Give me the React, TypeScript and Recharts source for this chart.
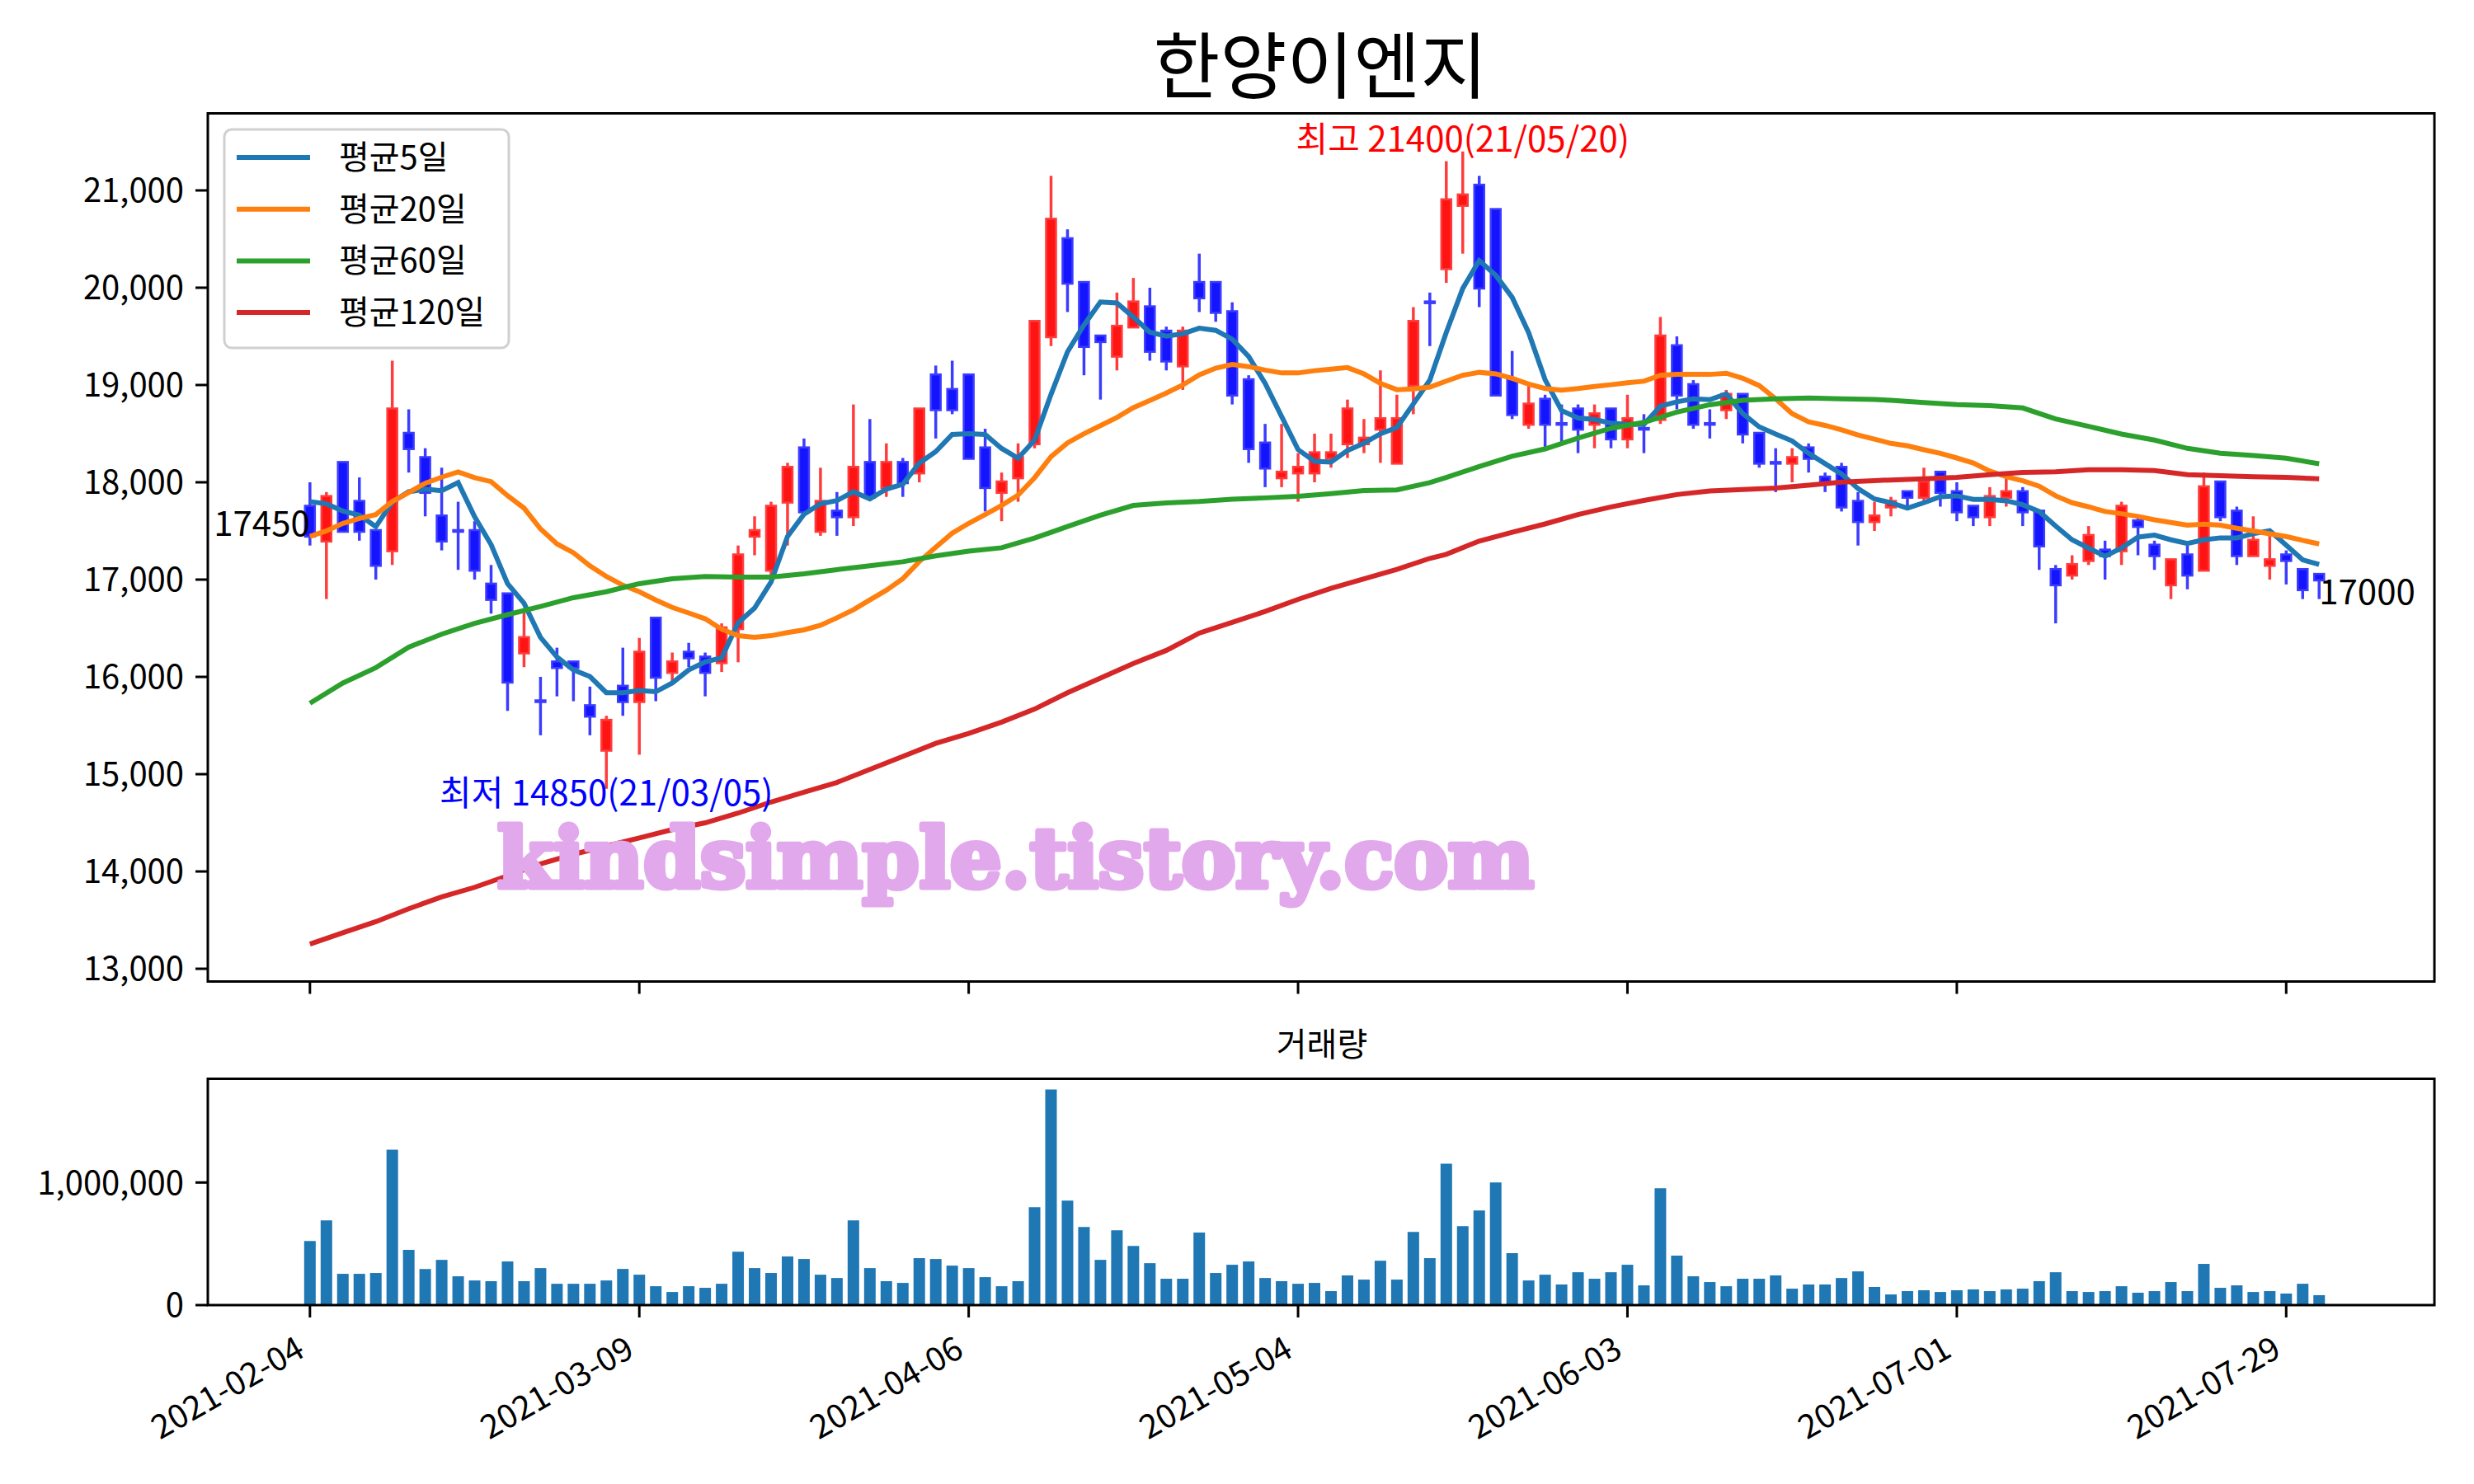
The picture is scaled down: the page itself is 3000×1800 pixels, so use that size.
import React from "react";
import { ComposedChart, Bar, Line, XAxis, YAxis, ReferenceDot } from "recharts";

const FONT = "'Noto Sans CJK KR', 'Noto Sans', sans-serif";

// daily candles, index 0 = 2021-02-04
const opens = [
  17750, 17400, 18200, 17800, 17500, 17300, 18500, 18250, 17650, 17500,
  17500, 16950, 16850, 16250, 15750, 16150, 16150, 15700, 15250, 15900,
  15750, 16600, 16050, 16250, 16200, 16150, 16500, 17450, 17100, 17800,
  18350, 17500, 17700, 17650, 18200, 17950, 18200, 18100, 19100, 18950,
  19100, 18350, 17900, 18050, 18400, 19500, 20500, 20050, 19500, 19300,
  19600, 19800, 19550, 19200, 20050, 20050, 19750, 19050, 18400, 18050,
  18100, 18100, 18250, 18400, 18400, 18550, 18200, 19000, 19850, 20200,
  20850, 21050, 20800, 19050, 18600, 18850, 18600, 18750, 18600, 18750,
  18450, 18550, 18650, 19400, 19000, 18600, 18750, 18900, 18500, 18200,
  18200, 18350, 18050, 18150, 17800, 17600, 17750, 17900, 17850, 18100,
  17900, 17750, 17650, 17850, 17900, 17700, 17100, 17050, 17200, 17300,
  17300, 17600, 17350, 16950, 17250, 17100, 18000, 17700, 17250, 17150,
  17250, 17100, 17050,
];
const highs = [
  18000, 17900, 18200, 18050, 17500, 19250, 18750, 18350, 18150, 17800,
  17600, 17150, 16850, 16700, 16000, 16300, 16150, 15900, 15600, 16300,
  16400, 16600, 16250, 16350, 16250, 16550, 17350, 17650, 17800, 18200,
  18450, 18150, 17900, 18800, 18650, 18400, 18250, 18750, 19200, 19250,
  19100, 18550, 18100, 18400, 19650, 21150, 20600, 20050, 19500, 19950,
  20100, 20000, 19600, 19600, 20350, 20050, 19850, 19100, 18600, 18600,
  18300, 18500, 18500, 18850, 18650, 19150, 18900, 19800, 19950, 21300,
  21400, 21150, 20800, 19350, 19000, 18900, 18800, 18800, 18800, 18750,
  18900, 18700, 19700, 19500, 19050, 18750, 18950, 18900, 18500, 18350,
  18350, 18400, 18100, 18200, 17900, 17800, 17850, 17900, 18150, 18100,
  18000, 17750, 17950, 18050, 17950, 17700, 17150, 17250, 17550, 17400,
  17800, 17650, 17400, 17200, 17350, 18100, 18000, 17750, 17650, 17500,
  17300, 17100, 17050,
];
const lows = [
  17350, 16800, 17500, 17400, 17000, 17150, 18100, 17650, 17300, 17100,
  17000, 16650, 15650, 16100, 15400, 15800, 15750, 15400, 14850, 15600,
  15200, 15750, 15950, 16100, 15800, 16050, 16150, 17250, 17050, 17350,
  17700, 17450, 17450, 17550, 17850, 17850, 17850, 18000, 18450, 18700,
  18250, 17700, 17600, 17800, 18350, 19400, 19750, 19100, 18850, 19150,
  19600, 19250, 19150, 18950, 19750, 19650, 18800, 18200, 17950, 17950,
  17800, 18000, 18150, 18250, 18300, 18200, 18200, 18700, 19400, 20050,
  20350, 19800, 18900, 18650, 18550, 18350, 18400, 18300, 18350, 18350,
  18350, 18300, 18600, 18750, 18550, 18450, 18650, 18400, 18150, 17900,
  18000, 18100, 17900, 17700, 17350, 17500, 17650, 17750, 17800, 17750,
  17600, 17550, 17550, 17750, 17550, 17100, 16550, 17000, 17150, 17000,
  17150, 17250, 17100, 16800, 16900, 17100, 17600, 17150, 17250, 17000,
  16950, 16800, 16800,
];
const closes = [
  17450, 17850, 17500, 17500, 17150, 18750, 18350, 17900, 17400, 17500,
  17100, 16800, 15950, 16400, 15750, 16100, 16100, 15600, 15550, 15750,
  16250, 16000, 16150, 16200, 16050, 16500, 17250, 17500, 17750, 18150,
  17700, 17800, 17650, 18150, 17850, 18200, 18000, 18750, 18750, 18750,
  18250, 17950, 18000, 18250, 19650, 20700, 20050, 19400, 19450, 19600,
  19850, 19350, 19250, 19550, 19900, 19750, 18900, 18350, 18150, 18100,
  18150, 18300, 18300, 18750, 18450, 18650, 18650, 19650, 19850, 20900,
  20950, 20000, 18900, 18700, 18800, 18600, 18600, 18550, 18700, 18450,
  18650, 18550, 19500, 18900, 18600, 18600, 18900, 18500, 18200, 18200,
  18250, 18250, 18000, 17750, 17600, 17650, 17800, 17850, 18000, 17900,
  17700, 17650, 17850, 17900, 17700, 17350, 16950, 17150, 17450, 17250,
  17750, 17550, 17250, 17200, 17050, 17950, 17650, 17250, 17400, 17200,
  17200, 16900, 17000,
];
const volumes = [
  523000, 691000, 255000, 255000, 262000, 1268000, 450000, 295000, 369000, 235000,
  201000, 195000, 356000, 195000, 302000, 174000, 174000, 174000, 201000, 295000,
  248000, 154000, 107000, 154000, 141000, 174000, 436000, 302000, 262000, 396000,
  376000, 248000, 221000, 691000, 302000, 195000, 181000, 383000, 376000, 322000,
  302000, 228000, 154000, 195000, 799000, 1758000, 852000, 638000, 369000, 611000,
  483000, 342000, 215000, 215000, 591000, 262000, 329000, 356000, 221000, 195000,
  174000, 181000, 114000, 242000, 208000, 362000, 208000, 597000, 383000, 1154000,
  644000, 772000, 1000000, 423000, 201000, 248000, 168000, 268000, 215000, 268000,
  329000, 161000, 953000, 403000, 235000, 188000, 154000, 215000, 215000, 242000,
  134000, 168000, 168000, 221000, 275000, 148000, 87000, 114000, 121000, 107000,
  121000, 128000, 114000, 128000, 134000, 195000, 268000, 114000, 107000, 114000,
  154000, 101000, 114000, 188000, 114000, 336000, 141000, 161000, 107000, 114000,
  94000, 174000, 81000,
];

// moving averages
const ma5 = [
  17802, 17779, 17705, 17662, 17544, 17796, 17903, 17930, 17913, 17997,
  17645, 17360, 16958, 16757, 16406, 16205, 16071, 16004, 15837, 15837,
  15860, 15847, 15937, 16071, 16155, 16195, 16556, 16707, 16975, 17444,
  17672, 17779, 17812, 17903, 17829, 17930, 17980, 18197, 18315, 18492,
  18499, 18492, 18348, 18248, 18432, 18904, 19341, 19617, 19853, 19844,
  19698, 19542, 19503, 19526, 19584, 19562, 19471, 19293, 19017, 18677,
  18336, 18216, 18207, 18327, 18401, 18499, 18563, 18806, 19050, 19540,
  19992, 20279, 20128, 19901, 19538, 19054, 18737, 18661, 18646, 18607,
  18595, 18595, 18782, 18827, 18858, 18849, 18909, 18706, 18570, 18495,
  18425, 18298, 18192, 18086, 17935, 17829, 17790, 17734, 17790, 17852,
  17861, 17824, 17824, 17810, 17770, 17700, 17550, 17409, 17324, 17240,
  17324, 17437, 17457, 17409, 17372, 17409, 17429, 17429, 17471, 17502,
  17353, 17203, 17155,
];
const ma20 = [
  17444, 17501, 17578, 17628, 17668, 17802, 17896, 17990, 18053, 18107,
  18047, 18007, 17863, 17735, 17521, 17367, 17276, 17142, 17032, 16942,
  16875, 16791, 16714, 16657, 16597, 16490, 16423, 16406, 16423, 16456,
  16483, 16530, 16607, 16690, 16791, 16891, 17009, 17186, 17333, 17477,
  17578, 17668, 17762, 17869, 18047, 18264, 18405, 18499, 18583, 18666,
  18767, 18840, 18917, 19000, 19105, 19173, 19212, 19189, 19153, 19124,
  19124, 19147, 19163, 19179, 19114, 19017, 18952, 18959, 18978, 19040,
  19100, 19130, 19115, 19069, 19009, 18964, 18948, 18964, 18985, 19003,
  19024, 19039, 19100, 19109, 19109, 19109, 19121, 19069, 18994, 18858,
  18706, 18622, 18585, 18540, 18486, 18443, 18400, 18375, 18335, 18298,
  18250, 18199, 18115, 18058, 18016, 17960, 17861, 17790, 17748, 17700,
  17677, 17649, 17615, 17587, 17559, 17570, 17559, 17528, 17500, 17471,
  17443, 17403, 17367,
];
const ma60Points: [number, number][] = [
  [0, 15729], [2, 15937], [4, 16094], [6, 16305], [8, 16439], [10, 16550],
  [12, 16640], [14, 16724], [16, 16814], [18, 16875], [20, 16958], [22, 17009],
  [24, 17032], [26, 17025], [28, 17025], [30, 17059], [32, 17102], [34, 17142],
  [36, 17183], [38, 17243], [40, 17293], [42, 17327], [44, 17427], [46, 17545],
  [48, 17662], [50, 17762], [52, 17789], [54, 17802], [56, 17827], [58, 17840],
  [60, 17856], [62, 17883], [64, 17915], [66, 17922], [68, 17996], [69, 18050],
  [71, 18162], [73, 18268], [75, 18343], [77, 18455], [79, 18555], [81, 18616],
  [83, 18721], [85, 18797], [87, 18843], [89, 18858], [91, 18867], [93, 18858],
  [95, 18852], [96, 18843], [98, 18820], [100, 18798], [102, 18787], [104, 18764],
  [106, 18651], [108, 18575], [110, 18496], [112, 18434], [114, 18349], [116, 18298],
  [118, 18276], [120, 18247], [122, 18191],
];
const ma120Points: [number, number][] = [
  [0, 13253], [2, 13370], [4, 13484], [6, 13617], [8, 13738], [10, 13837],
  [12, 13956], [14, 14077], [16, 14176], [18, 14261], [20, 14345], [22, 14430],
  [24, 14500], [26, 14600], [28, 14714], [30, 14815], [32, 14915], [34, 15049],
  [36, 15183], [38, 15317], [40, 15418], [42, 15535], [44, 15669], [46, 15837],
  [48, 15987], [50, 16138], [52, 16272], [54, 16450], [56, 16560], [58, 16673],
  [60, 16797], [62, 16910], [64, 17007], [66, 17105], [68, 17218], [69, 17260],
  [71, 17396], [73, 17487], [75, 17572], [77, 17669], [79, 17747], [81, 17814],
  [83, 17874], [85, 17911], [87, 17926], [89, 17941], [91, 17971], [93, 18002],
  [95, 18017], [96, 18024], [98, 18036], [100, 18050], [102, 18078], [104, 18101],
  [106, 18109], [108, 18129], [110, 18129], [112, 18120], [114, 18078], [116, 18067],
  [118, 18058], [120, 18050], [122, 18036],
];

const tickIdx = [0, 20, 40, 60, 80, 100, 120];
const tickDates = ["2021-02-04", "2021-03-09", "2021-04-06", "2021-05-04", "2021-06-03", "2021-07-01", "2021-07-29"];
const priceTicks = [13000, 14000, 15000, 16000, 17000, 18000, 19000, 20000, 21000];
const volumeTicks = [0, 1000000];

const maSeries = [
  { key: "ma5", name: "평균5일", color: "#1f77b4" },
  { key: "ma20", name: "평균20일", color: "#ff7f0e" },
  { key: "ma60", name: "평균60일", color: "#2ca02c" },
  { key: "ma120", name: "평균120일", color: "#d62728" },
];

const ma60ByIdx = new Map(ma60Points);
const ma120ByIdx = new Map(ma120Points);
const rows = closes.map((close, i) => ({
  i,
  open: opens[i],
  high: highs[i],
  low: lows[i],
  close,
  vol: volumes[i],
  ma5: ma5[i],
  ma20: ma20[i],
  ma60: ma60ByIdx.get(i) ?? null,
  ma120: ma120ByIdx.get(i) ?? null,
}));

const X_DOMAIN: [number, number] = [-6.2, 129.0];
const fmt = (v: number) => v.toLocaleString("en-US");

const Candle = (props: any) => {
  const { x, y, width, height, payload } = props;
  if (!payload || height == null) return null;
  const { open, close, high, low } = payload;
  const up = close > open;
  const fill = up ? "#ff1414" : "#1414ff";
  const edge = up ? "#ff3c3c" : "#3c3cff";
  const top = Math.min(y, y + height);
  const h = Math.abs(height);
  const k = h / (high - low);
  const py = (v: number) => top + (high - v) * k;
  const cx = x + width / 2;
  const bt = py(Math.max(open, close));
  const bb = py(Math.min(open, close));
  return (
    <g>
      <line x1={cx} x2={cx} y1={top} y2={top + h} stroke={edge} strokeWidth={3.5} />
      <rect x={x + 1} y={bt - 1} width={width - 2} height={Math.max(bb - bt, 0) + 2} fill={fill} stroke={edge} strokeWidth={2.5} />
    </g>
  );
};

const DateTick = (props: any) => {
  const { x, y, payload } = props;
  const label = tickDates[tickIdx.indexOf(payload.value)] ?? "";
  const ax = x - 4;
  const ay = y + 31;
  return (
    <text x={ax} y={ay} textAnchor="end" fontSize={40} fontFamily={FONT} fill="#000" transform={`rotate(-30, ${ax}, ${ay})`}>
      {label}
    </text>
  );
};

const noteText = (text: string, color: string, anchor: "start" | "middle" | "end", dy: number) => (p: any) => (
  <text x={p.cx} y={p.cy + dy} textAnchor={anchor} fontSize={42} fontFamily={FONT} fill={color}>
    {text}
  </text>
);

const axisTick = { fill: "#000", fontSize: 40, fontFamily: FONT };
const tickLineStyle = { stroke: "#000", strokeWidth: 3 };

export default function App() {
  return (
    <div style={{ position: "absolute", left: 0, top: 0, width: 3000, height: 1800, background: "#fff", overflow: "hidden" }}>
      <div style={{ position: "absolute", left: 0, top: 0 }}>
        <ComposedChart width={3000} height={1240} data={rows} margin={{ top: 137.5, right: 48, left: 152, bottom: 0 }}>
          <XAxis
            dataKey="i"
            type="number"
            domain={X_DOMAIN}
            allowDataOverflow
            ticks={tickIdx}
            tickFormatter={() => ""}
            tickSize={15}
            axisLine={false}
            tickLine={tickLineStyle}
            height={49.5}
          />
          <YAxis
            type="number"
            domain={[12869, 21792]}
            allowDataOverflow
            ticks={priceTicks}
            tickFormatter={fmt}
            width={100}
            axisLine={false}
            tickSize={15}
            tickMargin={14}
            tickLine={tickLineStyle}
            tick={axisTick}
          />
          <Bar dataKey={(d: any) => [d.low, d.high]} barSize={14} shape={(p: any) => <Candle {...p} />} isAnimationActive={false} />
          {maSeries.map((s) => (
            <Line
              key={s.key}
              dataKey={s.key}
              type="linear"
              stroke={s.color}
              strokeWidth={6}
              dot={false}
              activeDot={false}
              connectNulls
              isAnimationActive={false}
            />
          ))}
          <ReferenceDot x={70} y={21400} r={0} shape={noteText("최고 21400(21/05/20)", "#ff0000", "middle", 0)} />
          <ReferenceDot x={18} y={14850} r={0} shape={noteText("최저 14850(21/03/05)", "#0000ff", "middle", 20)} />
          <ReferenceDot x={0} y={closes[0]} r={0} shape={noteText(String(closes[0]), "#000", "end", 0)} />
          <ReferenceDot x={122} y={closes[122]} r={0} shape={noteText(String(closes[122]), "#000", "start", 30)} />
        </ComposedChart>
      </div>
      <div style={{ position: "absolute", left: 0, top: 1250 }}>
        <ComposedChart width={3000} height={550} data={rows} margin={{ top: 58.5, right: 48, left: 152, bottom: 0 }}>
          <XAxis
            dataKey="i"
            type="number"
            domain={X_DOMAIN}
            allowDataOverflow
            ticks={tickIdx}
            tick={<DateTick />}
            tickSize={15}
            tickMargin={15}
            axisLine={false}
            tickLine={tickLineStyle}
            height={217}
          />
          <YAxis
            type="number"
            domain={[0, 1846000]}
            allowDataOverflow
            ticks={volumeTicks}
            tickFormatter={fmt}
            width={100}
            axisLine={false}
            tickSize={15}
            tickMargin={14}
            tickLine={tickLineStyle}
            tick={axisTick}
          />
          <Bar dataKey="vol" barSize={14} fill="#1f77b4" isAnimationActive={false} />
        </ComposedChart>
      </div>
      <svg width={3000} height={1800} style={{ position: "absolute", left: 0, top: 0, pointerEvents: "none" }}>
        <text x={1601} y={112} textAnchor="middle" fontSize={88} fontFamily={FONT} fill="#000">한양이엔지</text>
        <text x={1603} y={1281} textAnchor="middle" fontSize={40} fontFamily={FONT} fill="#000">거래량</text>
        <text
          x={603}
          y={1076}
          fontSize={100}
          fontWeight="bold"
          fontFamily="'DejaVu Serif', 'Liberation Serif', serif"
          fill="#e2a8ec"
          stroke="#e2a8ec"
          strokeWidth={7}
          strokeLinejoin="round"
          textLength={1257}
          lengthAdjust="spacingAndGlyphs"
        >
          kindsimple.tistory.com
        </text>
        <rect x={252} y={137.5} width={2700} height={1053} fill="none" stroke="#000" strokeWidth={3} />
        <rect x={252} y={1308.5} width={2700} height={274.5} fill="none" stroke="#000" strokeWidth={3} />
        <rect x={272} y={157} width={345} height={265} rx={9} fill="#fff" fillOpacity={0.8} stroke="#d0d0d0" strokeWidth={3} />
        {maSeries.map((s, k) => {
          const ly = 191 + k * 62.7;
          return (
            <g key={s.key}>
              <line x1={287} x2={376} y1={ly} y2={ly} stroke={s.color} strokeWidth={6} />
              <text x={411} y={ly + 14} fontSize={40} fontFamily={FONT} fill="#000">{s.name}</text>
            </g>
          );
        })}
      </svg>
    </div>
  );
}
